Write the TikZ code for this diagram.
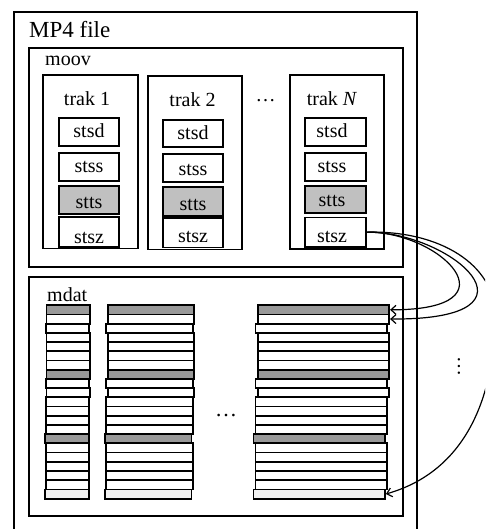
\documentclass[tikz,border=0pt]{standalone}
\usepackage{fontspec}
\setmainfont{Liberation Serif}
\usetikzlibrary{arrows.meta}
\definecolor{sttsgray}{HTML}{C0C0C0}
\definecolor{datgray}{HTML}{999999}
\definecolor{datlight}{HTML}{F2F2F2}
% box from top-left (x1,y1) to bottom-right (x2,y2): style, name, x1, y1, x2, y2
\newcommand{\mkbox}[6]{\node[#1,anchor=north west,minimum width={(#5-(#3))*1pt},minimum height={(#6-(#4))*1pt}] (#2) at (#3,#4) {};}

\begin{document}
\begin{tikzpicture}[x=1pt,y=-1pt,
  frame/.style={draw,line width=1.5pt,inner sep=0pt,outer sep=0pt},
  atom/.style={frame,fill=white},
  atomg/.style={frame,fill=sttsgray},
  lbl/.style={inner sep=0pt,anchor=base,font=\fontsize{20}{24}\selectfont},
  link/.style={line width=1.2pt,-{Straight Barb[length=5pt,width=9pt]}}]
\useasboundingbox (0,0) rectangle (485,529);
\clip (0,0) rectangle (485,529);

% file container
\mkbox{frame}{mp4}{14}{12}{417}{545}
\node[lbl,anchor=base west,font=\fontsize{23}{27}\selectfont] (mp4lbl) at (29,37.7) {MP4 file};

% moov box with its tracks
\mkbox{frame}{moov}{29}{48}{403}{267}
\node[lbl,anchor=base west] (moovlbl) at (45,65.7) {moov};

\mkbox{frame}{t1}{43}{75}{138}{248.5}
\node[lbl] (t1lbl) at (87,106) {trak 1};
\mkbox{atom}{t1sd}{59}{118}{119}{146}
\mkbox{atom}{t1ss}{59}{153}{119}{181}
\mkbox{atomg}{t1tt}{59}{186}{119}{214}
\mkbox{atom}{t1sz}{59}{217}{119}{247}
\node[lbl] (t1sdl) at (89,138) {stsd};
\node[lbl] (t1ssl) at (89,173) {stss};
\node[lbl] (t1ttl) at (89,208) {stts};
\node[lbl] (t1szl) at (89,243) {stsz};

\mkbox{frame}{t2}{148}{76}{242}{249.5}
\node[lbl] (t2lbl) at (192.5,106.7) {trak 2};
\mkbox{atom}{t2sd}{163}{120}{223}{147}
\mkbox{atom}{t2ss}{163}{154}{223}{182}
\mkbox{atomg}{t2tt}{163}{187}{223}{216}
\mkbox{atom}{t2sz}{163}{218}{223}{247.5}
\node[lbl] (t2sdl) at (193,140) {stsd};
\node[lbl] (t2ssl) at (193,175.7) {stss};
\node[lbl] (t2ttl) at (193,210) {stts};
\node[lbl] (t2szl) at (193,242.7) {stsz};

\node[lbl] (tdots) at (265.5,101.5) {…};

\mkbox{frame}{tN}{290}{75}{384}{249}
\node[lbl] (tNlbl) at (332,106) {trak \textit{N}};
\mkbox{atom}{tNsd}{305}{118}{366}{146}
\mkbox{atom}{tNss}{305}{153}{366}{181}
\mkbox{atomg}{tNtt}{305}{186}{366}{213}
\mkbox{atom}{tNsz}{305}{217.3}{366}{247}
\node[lbl] (tNsdl) at (332,138) {stsd};
\node[lbl] (tNssl) at (332,172.7) {stss};
\node[lbl] (tNttl) at (332,207) {stts};
\node[lbl] (tNszl) at (332,242.7) {stsz};

% mdat box with sample columns
\mkbox{frame}{mdat}{29}{277}{403}{516}
\node[lbl,anchor=base west] (mdatlbl) at (47,301) {mdat};

\foreach \i/\k/\f in {1/0/datgray,2/0/white,3/1/white,4/0/white,5/0/white,6/0/white,
    7/0/white,8/0/datgray,9/1/white,10/0/white,11/1/white,12/1/white,13/1/white,
    14/1/white,15/2/datgray,16/1/white,17/1/white,18/1/white,19/1/white,20/1/white,
    21/2/datlight}{
  \pgfmathsetmacro{\yy}{304.3+(\i-1)*9.21}
  \pgfmathsetmacro{\xa}{45.5-0.65*\k}
  \pgfmathsetmacro{\xb}{106.7-1.35*\k}
  \pgfmathsetmacro{\xc}{256.7-2.1*\k}
  \node[draw,line width=1.8pt,fill=\f,inner sep=0pt,anchor=north west,
        minimum width=43.5pt,minimum height=9.21pt] (c1r\i) at (\xa,\yy) {};
  \node[draw,line width=1.8pt,fill=\f,inner sep=0pt,anchor=north west,
        minimum width=86.6pt,minimum height=9.21pt] (c2r\i) at (\xb,\yy) {};
  \node[draw,line width=1.8pt,fill=\f,inner sep=0pt,anchor=north west,
        minimum width=131.6pt,minimum height=9.21pt] (c3r\i) at (\xc,\yy) {};
}

\node[lbl,font=\fontsize{22}{26}\selectfont] (mdots) at (226,416.5) {…};
\node[lbl,anchor=center,rotate=90] (vdots) at (459,366) {…};

% sample-size table pointing into the chunk data
\draw[link] (tNsz.east) .. controls (440,231) and (520,310) .. (c3r1.east);
\draw[link] (tNsz.east) .. controls (450,231) and (555,320) .. (c3r2.east);
\draw[link] (tNsz.east) .. controls (440,230) and (495,265) .. (495,315)
  .. controls (495,390) and (470,470) .. (c3r21.east);
\end{tikzpicture}
\end{document}
